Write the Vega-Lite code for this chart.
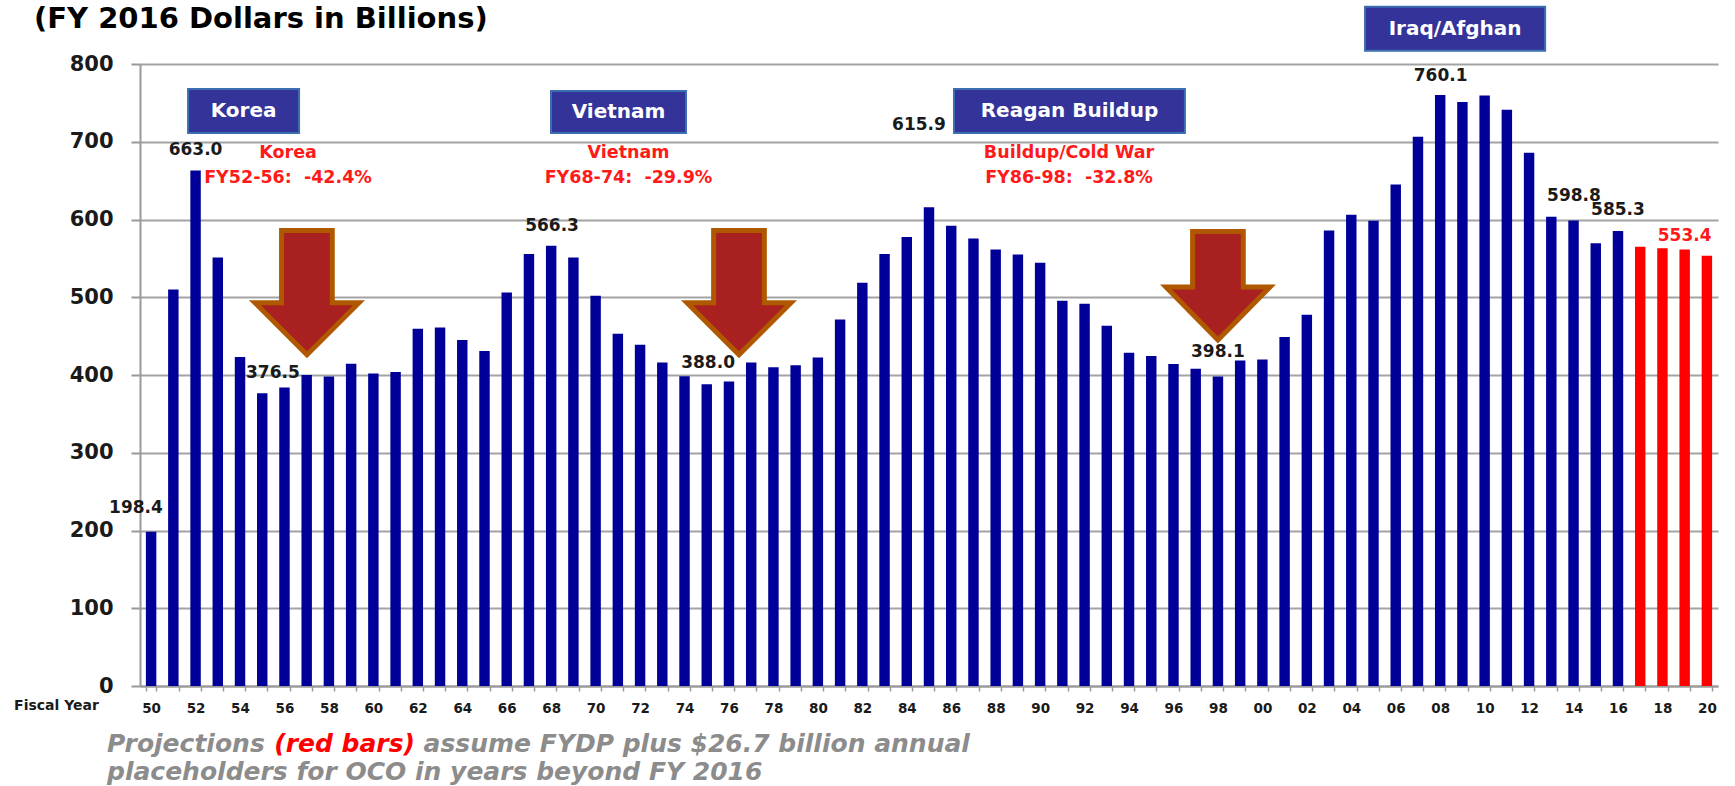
{
  "$schema": "https://vega.github.io/schema/vega-lite/v6.json",
  "width": 1578,
  "height": 622,
  "autosize": {"type": "none"},
  "padding": {"left": 140, "top": 64, "right": 17, "bottom": 100},
  "background": "#ffffff",
  "config": {"view": {"stroke": null}},
  "layer": [
    {
      "data": {"values": [
        {"year": "50", "value": 198.4, "series": "actual"},
        {"year": "51", "value": 510, "series": "actual"},
        {"year": "52", "value": 663.0, "series": "actual"},
        {"year": "53", "value": 551, "series": "actual"},
        {"year": "54", "value": 423, "series": "actual"},
        {"year": "55", "value": 376.5, "series": "actual"},
        {"year": "56", "value": 384, "series": "actual"},
        {"year": "57", "value": 400, "series": "actual"},
        {"year": "58", "value": 398, "series": "actual"},
        {"year": "59", "value": 414.5, "series": "actual"},
        {"year": "60", "value": 402, "series": "actual"},
        {"year": "61", "value": 404, "series": "actual"},
        {"year": "62", "value": 459.5, "series": "actual"},
        {"year": "63", "value": 461, "series": "actual"},
        {"year": "64", "value": 445, "series": "actual"},
        {"year": "65", "value": 431, "series": "actual"},
        {"year": "66", "value": 506, "series": "actual"},
        {"year": "67", "value": 555.5, "series": "actual"},
        {"year": "68", "value": 566.3, "series": "actual"},
        {"year": "69", "value": 551, "series": "actual"},
        {"year": "70", "value": 502, "series": "actual"},
        {"year": "71", "value": 453, "series": "actual"},
        {"year": "72", "value": 439, "series": "actual"},
        {"year": "73", "value": 416, "series": "actual"},
        {"year": "74", "value": 398.5, "series": "actual"},
        {"year": "75", "value": 388.0, "series": "actual"},
        {"year": "76", "value": 391.5, "series": "actual"},
        {"year": "77", "value": 416, "series": "actual"},
        {"year": "78", "value": 410, "series": "actual"},
        {"year": "79", "value": 412.5, "series": "actual"},
        {"year": "80", "value": 422.5, "series": "actual"},
        {"year": "81", "value": 471.5, "series": "actual"},
        {"year": "82", "value": 518.5, "series": "actual"},
        {"year": "83", "value": 555.5, "series": "actual"},
        {"year": "84", "value": 577.5, "series": "actual"},
        {"year": "85", "value": 615.9, "series": "actual"},
        {"year": "86", "value": 592, "series": "actual"},
        {"year": "87", "value": 575.5, "series": "actual"},
        {"year": "88", "value": 561.5, "series": "actual"},
        {"year": "89", "value": 555, "series": "actual"},
        {"year": "90", "value": 544.5, "series": "actual"},
        {"year": "91", "value": 495.5, "series": "actual"},
        {"year": "92", "value": 491.5, "series": "actual"},
        {"year": "93", "value": 463.5, "series": "actual"},
        {"year": "94", "value": 428.5, "series": "actual"},
        {"year": "95", "value": 424.5, "series": "actual"},
        {"year": "96", "value": 414, "series": "actual"},
        {"year": "97", "value": 408, "series": "actual"},
        {"year": "98", "value": 398.1, "series": "actual"},
        {"year": "99", "value": 418.5, "series": "actual"},
        {"year": "00", "value": 420, "series": "actual"},
        {"year": "01", "value": 449, "series": "actual"},
        {"year": "02", "value": 477.5, "series": "actual"},
        {"year": "03", "value": 586, "series": "actual"},
        {"year": "04", "value": 606, "series": "actual"},
        {"year": "05", "value": 598.5, "series": "actual"},
        {"year": "06", "value": 645, "series": "actual"},
        {"year": "07", "value": 706.5, "series": "actual"},
        {"year": "08", "value": 760.1, "series": "actual"},
        {"year": "09", "value": 751, "series": "actual"},
        {"year": "10", "value": 759.5, "series": "actual"},
        {"year": "11", "value": 741, "series": "actual"},
        {"year": "12", "value": 686, "series": "actual"},
        {"year": "13", "value": 603.5, "series": "actual"},
        {"year": "14", "value": 598.8, "series": "actual"},
        {"year": "15", "value": 569.5, "series": "actual"},
        {"year": "16", "value": 585.3, "series": "actual"},
        {"year": "17", "value": 565, "series": "projection"},
        {"year": "18", "value": 563, "series": "projection"},
        {"year": "19", "value": 561.5, "series": "projection"},
        {"year": "20", "value": 553.4, "series": "projection"}
      ]},
      "mark": {"type": "bar"},
      "encoding": {
        "x": {"field": "year", "type": "ordinal", "sort": null,
          "scale": {"paddingInner": 0.53, "paddingOuter": 0.265},
          "axis": {"title": "Fiscal Year", "titleX": -84, "titleY": 19, "titleAlign": "center", "titleBaseline": "middle", "titleAngle": 0,
            "titleFont": "DejaVu Sans", "titleFontSize": 14, "titleFontWeight": "bold", "titleColor": "#1a1a1a",
            "labelAngle": 0, "labelFont": "DejaVu Sans", "labelFontSize": 13.5, "labelFontWeight": "bold", "labelColor": "#1a1a1a",
            "labelExpr": "parseInt(datum.value) % 2 === 0 ? datum.label : ''", "labelOverlap": false, "labelBaseline": "middle", "labelPadding": 17,
            "tickBand": "extent", "ticks": true, "tickColor": "#999999", "tickSize": 5, "tickWidth": 1.5,
            "domainColor": "#999999", "domainWidth": 2, "grid": false}},
        "y": {"field": "value", "type": "quantitative",
          "scale": {"domain": [0, 800], "nice": false},
          "axis": {"title": null, "values": [0, 100, 200, 300, 400, 500, 600, 700, 800],
            "grid": true, "gridColor": "#a3a3a3", "gridWidth": 2,
            "domainColor": "#999999", "domainWidth": 2, "tickColor": "#999999", "tickSize": 9, "tickWidth": 2,
            "labelFont": "DejaVu Sans", "labelFontSize": 21, "labelFontWeight": "bold", "labelColor": "#1a1a1a", "labelPadding": 18}},
        "color": {"field": "series", "type": "nominal", "scale": {"domain": ["actual", "projection"], "range": ["#000099", "#FF0000"]}, "legend": null}
      }
    },
    {
      "layer": [
        {"data": {"values": [{"t": "(FY 2016 Dollars in Billions)"}]}, "mark": {"type": "text", "font": "DejaVu Sans", "fontSize": 29, "fontWeight": "bold", "color": "#000000", "align": "left", "baseline": "alphabetic"},
         "encoding": {"x": {"datum": 1944.73, "type": "quantitative", "scale": {"domain": [1949.5, 2020.5], "nice": false, "zero": false}, "axis": null}, "y": {"datum": 846.3, "type": "quantitative", "scale": {"domain": [0, 800]}}, "text": {"field": "t"}}},

        {"data": {"values": [{"t": "198.4"}]}, "mark": {"type": "text", "font": "DejaVu Sans", "fontSize": 17, "fontWeight": "bold", "color": "#1a1a1a", "align": "center", "baseline": "middle"},
         "encoding": {"x": {"datum": 1949.32, "type": "quantitative", "scale": {"domain": [1949.5, 2020.5], "nice": false, "zero": false}, "axis": null}, "y": {"datum": 228.9, "type": "quantitative", "scale": {"domain": [0, 800]}}, "text": {"field": "t"}}},
        {"data": {"values": [{"t": "663.0"}]}, "mark": {"type": "text", "font": "DejaVu Sans", "fontSize": 17, "fontWeight": "bold", "color": "#1a1a1a", "align": "center", "baseline": "middle"},
         "encoding": {"x": {"datum": 1952.0, "type": "quantitative", "scale": {"domain": [1949.5, 2020.5], "nice": false, "zero": false}, "axis": null}, "y": {"datum": 689.4, "type": "quantitative", "scale": {"domain": [0, 800]}}, "text": {"field": "t"}}},
        {"data": {"values": [{"t": "376.5"}]}, "mark": {"type": "text", "font": "DejaVu Sans", "fontSize": 17, "fontWeight": "bold", "color": "#1a1a1a", "align": "center", "baseline": "middle"},
         "encoding": {"x": {"datum": 1955.48, "type": "quantitative", "scale": {"domain": [1949.5, 2020.5], "nice": false, "zero": false}, "axis": null}, "y": {"datum": 402.6, "type": "quantitative", "scale": {"domain": [0, 800]}}, "text": {"field": "t"}}},
        {"data": {"values": [{"t": "566.3"}]}, "mark": {"type": "text", "font": "DejaVu Sans", "fontSize": 17, "fontWeight": "bold", "color": "#1a1a1a", "align": "center", "baseline": "middle"},
         "encoding": {"x": {"datum": 1968.04, "type": "quantitative", "scale": {"domain": [1949.5, 2020.5], "nice": false, "zero": false}, "axis": null}, "y": {"datum": 591.6, "type": "quantitative", "scale": {"domain": [0, 800]}}, "text": {"field": "t"}}},
        {"data": {"values": [{"t": "388.0"}]}, "mark": {"type": "text", "font": "DejaVu Sans", "fontSize": 17, "fontWeight": "bold", "color": "#1a1a1a", "align": "center", "baseline": "middle"},
         "encoding": {"x": {"datum": 1975.06, "type": "quantitative", "scale": {"domain": [1949.5, 2020.5], "nice": false, "zero": false}, "axis": null}, "y": {"datum": 415.4, "type": "quantitative", "scale": {"domain": [0, 800]}}, "text": {"field": "t"}}},
        {"data": {"values": [{"t": "615.9"}]}, "mark": {"type": "text", "font": "DejaVu Sans", "fontSize": 17, "fontWeight": "bold", "color": "#1a1a1a", "align": "center", "baseline": "middle"},
         "encoding": {"x": {"datum": 1984.55, "type": "quantitative", "scale": {"domain": [1949.5, 2020.5], "nice": false, "zero": false}, "axis": null}, "y": {"datum": 721.5, "type": "quantitative", "scale": {"domain": [0, 800]}}, "text": {"field": "t"}}},
        {"data": {"values": [{"t": "398.1"}]}, "mark": {"type": "text", "font": "DejaVu Sans", "fontSize": 17, "fontWeight": "bold", "color": "#1a1a1a", "align": "center", "baseline": "middle"},
         "encoding": {"x": {"datum": 1998.0, "type": "quantitative", "scale": {"domain": [1949.5, 2020.5], "nice": false, "zero": false}, "axis": null}, "y": {"datum": 429.6, "type": "quantitative", "scale": {"domain": [0, 800]}}, "text": {"field": "t"}}},
        {"data": {"values": [{"t": "760.1"}]}, "mark": {"type": "text", "font": "DejaVu Sans", "fontSize": 17, "fontWeight": "bold", "color": "#1a1a1a", "align": "center", "baseline": "middle"},
         "encoding": {"x": {"datum": 2008.02, "type": "quantitative", "scale": {"domain": [1949.5, 2020.5], "nice": false, "zero": false}, "axis": null}, "y": {"datum": 784.6, "type": "quantitative", "scale": {"domain": [0, 800]}}, "text": {"field": "t"}}},
        {"data": {"values": [{"t": "598.8"}]}, "mark": {"type": "text", "font": "DejaVu Sans", "fontSize": 17, "fontWeight": "bold", "color": "#1a1a1a", "align": "center", "baseline": "middle"},
         "encoding": {"x": {"datum": 2014.02, "type": "quantitative", "scale": {"domain": [1949.5, 2020.5], "nice": false, "zero": false}, "axis": null}, "y": {"datum": 630.2, "type": "quantitative", "scale": {"domain": [0, 800]}}, "text": {"field": "t"}}},
        {"data": {"values": [{"t": "585.3"}]}, "mark": {"type": "text", "font": "DejaVu Sans", "fontSize": 17, "fontWeight": "bold", "color": "#1a1a1a", "align": "center", "baseline": "middle"},
         "encoding": {"x": {"datum": 2016.0, "type": "quantitative", "scale": {"domain": [1949.5, 2020.5], "nice": false, "zero": false}, "axis": null}, "y": {"datum": 612.2, "type": "quantitative", "scale": {"domain": [0, 800]}}, "text": {"field": "t"}}},
        {"data": {"values": [{"t": "553.4"}]}, "mark": {"type": "text", "font": "DejaVu Sans", "fontSize": 17, "fontWeight": "bold", "color": "#FF1A1A", "align": "center", "baseline": "middle"},
         "encoding": {"x": {"datum": 2019.0, "type": "quantitative", "scale": {"domain": [1949.5, 2020.5], "nice": false, "zero": false}, "axis": null}, "y": {"datum": 578.8, "type": "quantitative", "scale": {"domain": [0, 800]}}, "text": {"field": "t"}}},

        {"data": {"values": [{"t": ["Korea", "FY52-56:\u00a0 -42.4%"]}]}, "mark": {"type": "text", "font": "DejaVu Sans", "fontSize": 17.5, "fontWeight": "bold", "color": "#FF1A1A", "align": "center", "baseline": "middle", "lineHeight": 25},
         "encoding": {"x": {"datum": 1956.16, "type": "quantitative", "scale": {"domain": [1949.5, 2020.5], "nice": false, "zero": false}, "axis": null}, "y": {"datum": 685.5, "type": "quantitative", "scale": {"domain": [0, 800]}}, "text": {"field": "t"}}},
        {"data": {"values": [{"t": ["Vietnam", "FY68-74:\u00a0 -29.9%"]}]}, "mark": {"type": "text", "font": "DejaVu Sans", "fontSize": 17.5, "fontWeight": "bold", "color": "#FF1A1A", "align": "center", "baseline": "middle", "lineHeight": 25},
         "encoding": {"x": {"datum": 1971.48, "type": "quantitative", "scale": {"domain": [1949.5, 2020.5], "nice": false, "zero": false}, "axis": null}, "y": {"datum": 685.5, "type": "quantitative", "scale": {"domain": [0, 800]}}, "text": {"field": "t"}}},
        {"data": {"values": [{"t": ["Buildup/Cold War", "FY86-98:\u00a0 -32.8%"]}]}, "mark": {"type": "text", "font": "DejaVu Sans", "fontSize": 17.5, "fontWeight": "bold", "color": "#FF1A1A", "align": "center", "baseline": "middle", "lineHeight": 25},
         "encoding": {"x": {"datum": 1991.3, "type": "quantitative", "scale": {"domain": [1949.5, 2020.5], "nice": false, "zero": false}, "axis": null}, "y": {"datum": 685.5, "type": "quantitative", "scale": {"domain": [0, 800]}}, "text": {"field": "t"}}},

        {"data": {"values": [{"t": "Korea"}]},
         "encoding": {"x": {"datum": 1954.16, "type": "quantitative", "scale": {"domain": [1949.5, 2020.5], "nice": false, "zero": false}, "axis": null}, "y": {"datum": 739.5, "type": "quantitative", "scale": {"domain": [0, 800]}}},
         "layer": [
           {"mark": {"type": "point", "shape": "M-0.4826,-0.1913H0.4826V0.1913H-0.4826Z", "size": 52900, "filled": true, "fill": "#333399", "stroke": "#3C6FB0", "strokeWidth": 2, "opacity": 1}},
           {"mark": {"type": "text", "font": "DejaVu Sans", "fontSize": 20, "fontWeight": "bold", "color": "#ffffff", "align": "center", "baseline": "middle"}, "encoding": {"text": {"field": "t"}}}
         ]},
        {"data": {"values": [{"t": "Vietnam"}]},
         "encoding": {"x": {"datum": 1971.03, "type": "quantitative", "scale": {"domain": [1949.5, 2020.5], "nice": false, "zero": false}, "axis": null}, "y": {"datum": 738.3, "type": "quantitative", "scale": {"domain": [0, 800]}}},
         "layer": [
           {"mark": {"type": "point", "shape": "M-0.587,-0.1826H0.587V0.1826H-0.587Z", "size": 52900, "filled": true, "fill": "#333399", "stroke": "#3C6FB0", "strokeWidth": 2, "opacity": 1}},
           {"mark": {"type": "text", "font": "DejaVu Sans", "fontSize": 20, "fontWeight": "bold", "color": "#ffffff", "align": "center", "baseline": "middle"}, "encoding": {"text": {"field": "t"}}}
         ]},
        {"data": {"values": [{"t": "Reagan Buildup"}]},
         "encoding": {"x": {"datum": 1991.32, "type": "quantitative", "scale": {"domain": [1949.5, 2020.5], "nice": false, "zero": false}, "axis": null}, "y": {"datum": 739.5, "type": "quantitative", "scale": {"domain": [0, 800]}}},
         "layer": [
           {"mark": {"type": "point", "shape": "M-1.004,-0.1913H1.004V0.1913H-1.004Z", "size": 52900, "filled": true, "fill": "#333399", "stroke": "#3C6FB0", "strokeWidth": 2, "opacity": 1}},
           {"mark": {"type": "text", "font": "DejaVu Sans", "fontSize": 20, "fontWeight": "bold", "color": "#ffffff", "align": "center", "baseline": "middle"}, "encoding": {"text": {"field": "t"}}}
         ]},
        {"data": {"values": [{"t": "Iraq/Afghan"}]},
         "encoding": {"x": {"datum": 2008.67, "type": "quantitative", "scale": {"domain": [1949.5, 2020.5], "nice": false, "zero": false}, "axis": null}, "y": {"datum": 845.4, "type": "quantitative", "scale": {"domain": [0, 800]}}},
         "layer": [
           {"mark": {"type": "point", "shape": "M-0.783,-0.1913H0.783V0.1913H-0.783Z", "size": 52900, "filled": true, "fill": "#333399", "stroke": "#3C6FB0", "strokeWidth": 2, "opacity": 1}},
           {"mark": {"type": "text", "font": "DejaVu Sans", "fontSize": 20, "fontWeight": "bold", "color": "#ffffff", "align": "center", "baseline": "middle"}, "encoding": {"text": {"field": "t"}}}
         ]},

        {"data": {"values": [{"t": "Korea decline"}]}, "mark": {"type": "point", "shape": "M-0.39,-0.96H0.39V0.15H0.8L0,0.95L-0.8,0.15H-0.39Z", "size": 16900, "filled": true, "fill": "#A82020", "stroke": "#B05800", "strokeWidth": 5, "strokeJoin": "miter", "opacity": 1},
         "encoding": {"x": {"datum": 1957.01, "type": "quantitative", "scale": {"domain": [1949.5, 2020.5], "nice": false, "zero": false}, "axis": null}, "y": {"datum": 505.5, "type": "quantitative", "scale": {"domain": [0, 800]}}}},
        {"data": {"values": [{"t": "Vietnam decline"}]}, "mark": {"type": "point", "shape": "M-0.39,-0.96H0.39V0.15H0.8L0,0.95L-0.8,0.15H-0.39Z", "size": 16900, "filled": true, "fill": "#A82020", "stroke": "#B05800", "strokeWidth": 5, "strokeJoin": "miter", "opacity": 1},
         "encoding": {"x": {"datum": 1976.45, "type": "quantitative", "scale": {"domain": [1949.5, 2020.5], "nice": false, "zero": false}, "axis": null}, "y": {"datum": 505.5, "type": "quantitative", "scale": {"domain": [0, 800]}}}},
        {"data": {"values": [{"t": "Cold War decline"}]}, "mark": {"type": "point", "shape": "M-0.39,-0.84H0.39V0.015H0.8L0,0.83L-0.8,0.015H-0.39Z", "size": 16900, "filled": true, "fill": "#A82020", "stroke": "#B05800", "strokeWidth": 5, "strokeJoin": "miter", "opacity": 1},
         "encoding": {"x": {"datum": 1998.0, "type": "quantitative", "scale": {"domain": [1949.5, 2020.5], "nice": false, "zero": false}, "axis": null}, "y": {"datum": 514.5, "type": "quantitative", "scale": {"domain": [0, 800]}}}},

        {"data": {"values": [{"t": "Projections"}]}, "mark": {"type": "text", "font": "DejaVu Sans", "fontSize": 25, "fontWeight": "bold", "fontStyle": "italic", "color": "#8C8C8C", "align": "left", "baseline": "middle"},
         "encoding": {"x": {"datum": 1948.015, "type": "quantitative", "scale": {"domain": [1949.5, 2020.5], "nice": false, "zero": false}, "axis": null}, "y": {"datum": -74.5, "type": "quantitative", "scale": {"domain": [0, 800]}}, "text": {"field": "t"}}},
        {"data": {"values": [{"t": "(red bars)"}]}, "mark": {"type": "text", "font": "DejaVu Sans", "fontSize": 25, "fontWeight": "bold", "fontStyle": "italic", "color": "#FF0000", "align": "left", "baseline": "middle"},
         "encoding": {"x": {"datum": 1955.54, "type": "quantitative", "scale": {"domain": [1949.5, 2020.5], "nice": false, "zero": false}, "axis": null}, "y": {"datum": -74.5, "type": "quantitative", "scale": {"domain": [0, 800]}}, "text": {"field": "t"}}},
        {"data": {"values": [{"t": "assume FYDP plus $26.7 billion annual"}]}, "mark": {"type": "text", "font": "DejaVu Sans", "fontSize": 25, "fontWeight": "bold", "fontStyle": "italic", "color": "#8C8C8C", "align": "left", "baseline": "middle"},
         "encoding": {"x": {"datum": 1962.26, "type": "quantitative", "scale": {"domain": [1949.5, 2020.5], "nice": false, "zero": false}, "axis": null}, "y": {"datum": -74.5, "type": "quantitative", "scale": {"domain": [0, 800]}}, "text": {"field": "t"}}},
        {"data": {"values": [{"t": "placeholders for OCO in years beyond FY 2016"}]}, "mark": {"type": "text", "font": "DejaVu Sans", "fontSize": 25, "fontWeight": "bold", "fontStyle": "italic", "color": "#8C8C8C", "align": "left", "baseline": "middle"},
         "encoding": {"x": {"datum": 1948.015, "type": "quantitative", "scale": {"domain": [1949.5, 2020.5], "nice": false, "zero": false}, "axis": null}, "y": {"datum": -110.5, "type": "quantitative", "scale": {"domain": [0, 800]}}, "text": {"field": "t"}}}
      ]
    }
  ],
  "resolve": {"scale": {"x": "independent"}, "axis": {"x": "independent"}}
}
